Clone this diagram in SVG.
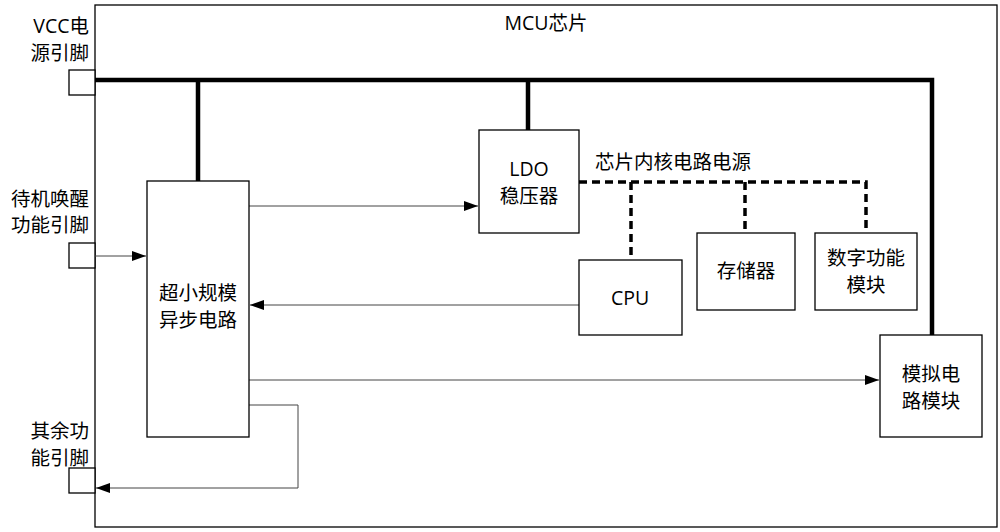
<svg xmlns="http://www.w3.org/2000/svg" width="1000" height="532" viewBox="0 0 1000 532">
<defs>
<style>
text{font-family:"Open Sans","Noto Sans CJK SC",sans-serif;font-size:19.5px;fill:#000}
.b{fill:#fff;stroke:#000;stroke-width:1.3}
.t{fill:none;stroke:#444;stroke-width:1}
.p{fill:none;stroke:#000;stroke-width:4.5}
.d{fill:none;stroke:#000;stroke-width:3.5;stroke-dasharray:8,5}
</style>
<marker id="a" markerWidth="14" markerHeight="10" refX="14" refY="5" orient="auto" markerUnits="userSpaceOnUse"><path d="M0,0L14,5L0,10z" fill="#000"/></marker>
</defs>
<rect width="1000" height="532" fill="#fff"/>
<g id="mcu"><rect class="b" x="95" y="5" width="902" height="522"/><text x="546" y="30" text-anchor="middle">MCU芯片</text></g>
<g id="pin-vcc"><rect class="b" x="69" y="70" width="26" height="25"/><text x="89" y="33" text-anchor="end">VCC电</text><text x="89" y="60" text-anchor="end">源引脚</text></g>
<g id="pin-wake"><rect class="b" x="69" y="243" width="26" height="25"/><text x="89" y="206" text-anchor="end">待机唤醒</text><text x="89" y="232" text-anchor="end">功能引脚</text></g>
<g id="pin-other"><rect class="b" x="69" y="468" width="26" height="25"/><text x="89" y="438" text-anchor="end">其余功</text><text x="89" y="465" text-anchor="end">能引脚</text></g>
<g id="connectors">
<path class="p" d="M95,80H932V335M198,80V181M528,80V130"/>
<path class="d" d="M579,182H866V233M631,182V260M745,182V233"/>
<path class="t" d="M249,206H478" marker-end="url(#a)"/>
<path class="t" d="M95,256H146" marker-end="url(#a)"/>
<path class="t" d="M579,305H250" marker-end="url(#a)"/>
<path class="t" d="M249,380H879" marker-end="url(#a)"/>
<path class="t" d="M249,405H298V488H96" marker-end="url(#a)"/>
</g>
<g id="async"><rect class="b" x="147" y="181" width="102" height="256"/><text x="198" y="300" text-anchor="middle">超小规模</text><text x="198" y="327" text-anchor="middle">异步电路</text></g>
<g id="ldo"><rect class="b" x="479" y="130" width="100" height="103"/><text x="529" y="176" text-anchor="middle">LDO</text><text x="529" y="203" text-anchor="middle">稳压器</text></g>
<text x="595" y="169">芯片内核电路电源</text>
<g id="cpu"><rect class="b" x="579" y="260" width="103" height="75"/><text x="630" y="305" text-anchor="middle">CPU</text></g>
<g id="mem"><rect class="b" x="697" y="233" width="98" height="77"/><text x="746" y="278" text-anchor="middle">存储器</text></g>
<g id="digital"><rect class="b" x="815" y="233" width="102" height="77"/><text x="866" y="265" text-anchor="middle">数字功能</text><text x="866" y="292" text-anchor="middle">模块</text></g>
<g id="analog"><rect class="b" x="880" y="335" width="102" height="102"/><text x="931" y="381" text-anchor="middle">模拟电</text><text x="931" y="408" text-anchor="middle">路模块</text></g>
</svg>
